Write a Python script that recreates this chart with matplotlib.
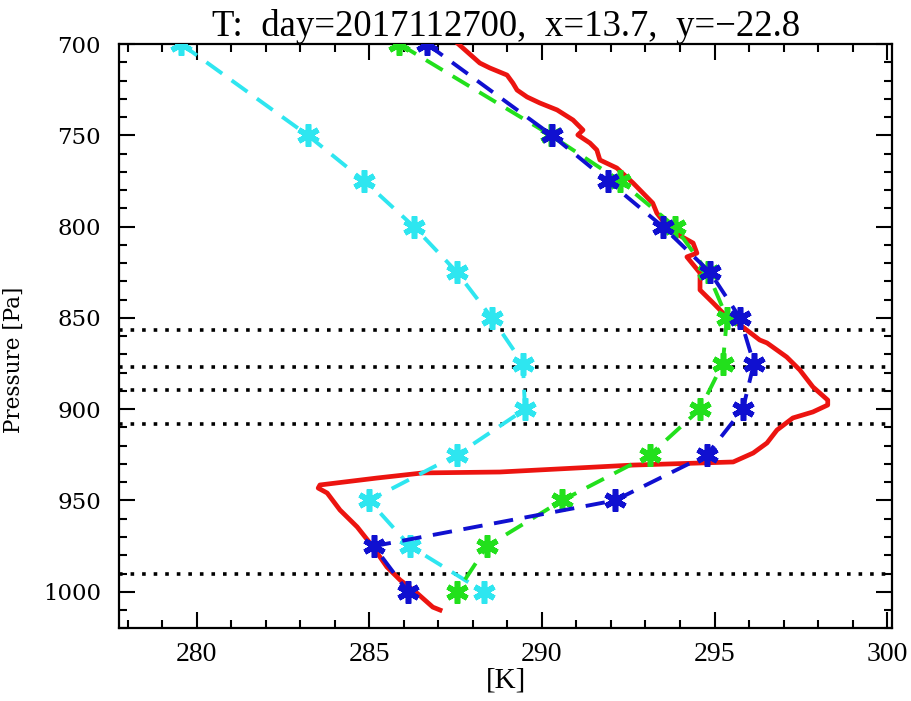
import matplotlib
matplotlib.use("Agg")
import matplotlib.pyplot as plt
from matplotlib.ticker import MultipleLocator

# standard pressure levels of the model profiles
levels = [700, 750, 775, 800, 825, 850, 875, 900, 925, 950, 975, 1000]

t_cyan = [279.55, 283.22, 284.85, 286.29, 287.54, 288.55, 289.45, 289.51,
          287.54, 284.99, 286.18, 288.32]
t_green = [285.87, 290.26, 292.26, 293.85, 294.80, 295.36, 295.24, 294.58,
           293.13, 290.58, 288.41, 287.54]
t_blue = [286.67, 290.29, 291.91, 293.50, 294.87, 295.74, 296.14, 295.82,
          294.78, 292.11, 285.13, 286.12]

# observed sounding (red)
p_obs = [699.5, 710.4, 713.1, 717.0, 721.4, 725.2, 729.0, 732.3, 736.1, 741.6,
         747.1, 749.8, 754.2, 758.0, 763.5, 767.9, 776.1, 787.1, 792.6, 801.9,
         809.0, 814.5, 816.6, 825.4, 834.7, 841.8, 849.5, 855.0, 862.1, 863.7,
         871.4, 878.5, 887.8, 895.0, 897.7, 901.5, 904.8, 911.4, 918.5, 924.0,
         928.9, 930.6, 934.4, 934.9, 937.7, 941.5, 943.2, 945.9, 955.2, 964.5,
         975.5, 986.4, 993.5, 1000.7, 1008.4, 1010.0]
t_obs = [287.55, 288.20, 288.49, 288.99, 289.16, 289.28, 289.57, 289.94, 290.44, 290.90,
         291.19, 291.04, 291.39, 291.59, 291.68, 292.17, 292.64, 293.21, 293.33, 293.71,
         294.38, 294.49, 294.20, 294.58, 294.58, 294.96, 295.36, 295.82, 296.31, 296.52,
         297.09, 297.47, 297.85, 298.28, 298.28, 297.85, 297.27, 296.81, 296.52, 296.12,
         295.54, 292.64, 288.78, 286.55, 285.22, 283.57, 283.52, 283.78, 284.15, 284.65,
         285.11, 285.51, 285.89, 286.38, 286.84, 287.05]

# model level pressures (dotted lines)
hlines = [856.6, 876.9, 889.5, 908.2, 990.2]

fig = plt.figure(figsize=(9.12, 7.01), dpi=100)
ax = fig.add_axes([0.1305, 0.1037, 0.8479, 0.8335])

for p in hlines:
    ax.axhline(p, color='black', linestyle=(0, (1, 2.2)), linewidth=2.6)

ax.plot(t_obs, p_obs, color='#ec1410', linewidth=3.4, zorder=3)

mk = (6, 2, 0)
dash = (0, (5, 3))
ax.plot(t_cyan, levels, color='#2ee6f0', linestyle=dash, linewidth=2.8,
        marker=mk, markersize=16, markeredgewidth=4, zorder=4)
ax.plot(t_green, levels, color='#22e01c', linestyle=dash, linewidth=2.8,
        marker=mk, markersize=16, markeredgewidth=4, zorder=4)
ax.plot(t_blue, levels, color='#1010d0', linestyle=dash, linewidth=2.8,
        marker=mk, markersize=16, markeredgewidth=4, zorder=5)

ax.set_xlim(277.75, 300.15)
ax.set_ylim(1020, 700)
ax.xaxis.set_major_locator(MultipleLocator(5))
ax.xaxis.set_minor_locator(MultipleLocator(1))
ax.yaxis.set_major_locator(MultipleLocator(50))
ax.yaxis.set_minor_locator(MultipleLocator(10))

ax.tick_params(which='both', direction='in', top=True, right=True, width=1.5)
ax.tick_params(which='major', length=11.5)
ax.tick_params(which='minor', length=5.8)
ax.tick_params(axis='x', pad=10)
ax.tick_params(axis='y', pad=13)
for s in ax.spines.values():
    s.set_linewidth(1.6)

for lab in ax.get_xticklabels():
    lab.set_fontfamily('Liberation Serif')
    lab.set_fontsize(20)
for lab in ax.get_yticklabels():
    lab.set_fontfamily('DejaVu Serif')
    lab.set_fontsize(16.5)

ax.set_xlabel('[K]', fontfamily='Liberation Serif', fontsize=21, labelpad=0)
ax.set_ylabel('Pressure [Pa]', fontfamily='DejaVu Serif', fontsize=15.5)
ax.yaxis.set_label_coords(-0.1216, 0.459)
ax.set_title('T:  day=2017112700,  x=13.7,  y=\u221222.8', fontfamily='Liberation Serif',
             fontsize=26.5, pad=4)

fig.savefig('out.png', dpi=100)
